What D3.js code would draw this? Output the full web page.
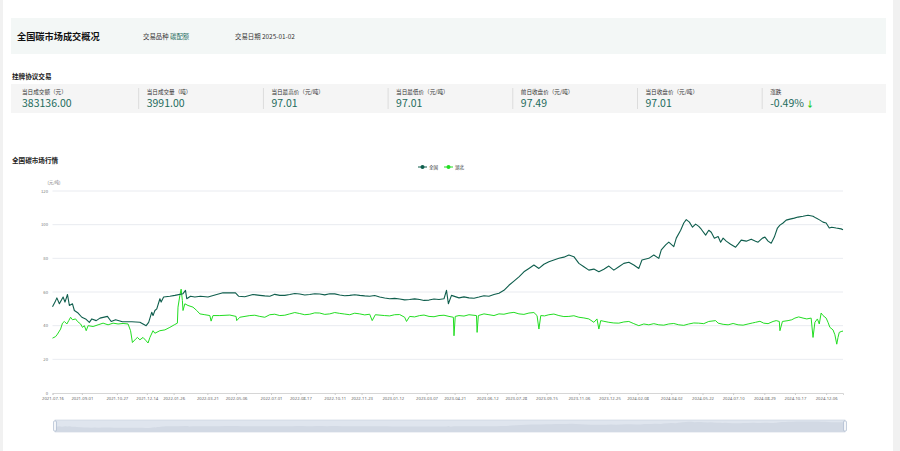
<!DOCTYPE html>
<html><head><meta charset="utf-8">
<script src="https://cdn.jsdelivr.net/npm/d3@7/dist/d3.min.js"></script>
<style>
html,body{margin:0;padding:0;background:#fff;overflow:hidden;}
svg{display:block;font-family:"Noto Sans CJK SC","Noto Sans",sans-serif;}
</style></head><body>
<svg id="c" width="900" height="451"></svg>
<script>
const headerTitle = "全国碳市场成交概况";
const productLabel = "交易品种 ";
const productName = "碳配额";
const dateLabel = "交易日期 2025-01-02";
const sectionTitle = "挂牌协议交易";
const metricLabels = ["当日成交额（元）","当日成交量（吨）","当日最高价（元/吨）","当日最低价（元/吨）","前日收盘价（元/吨）","当日收盘价（元/吨）","涨跌"];
const metricValues = ["383136.00","3991.00","97.01","97.01","97.49","97.01","-0.49%"];
const chartTitle = "全国碳市场行情";
const seriesNames = ["全国","湖北"];
const yTicks = [0,20,40,60,80,100,120];
const yUnit = "(元/吨)";
const xTickLabels = ["2021-07-16","2021-09-01","2021-10-27","2021-12-14","2022-01-26","2022-03-21","2022-05-06","2022-07-01","2022-08-17","2022-10-11","2022-11-23","2023-01-12","2023-03-07","2023-04-21","2023-06-12","2023-07-28","2023-09-15","2023-11-06","2023-12-25","2024-02-08","2024-04-02","2024-05-22","2024-07-10","2024-08-29","2024-10-17","2024-12-06"];
const xDomain = ["2021-07-16","2025-01-02"];

const nationalSeries = [
["2021-07-16",51.2],["2021-07-20",54],["2021-07-23",56.5],["2021-07-27",53],["2021-08-02",57],["2021-08-05",54],["2021-08-09",58.5],["2021-08-12",52],["2021-08-17",53],["2021-08-20",49],["2021-08-26",47.5],["2021-09-01",45],["2021-09-07",44],["2021-09-13",42],["2021-09-17",44],["2021-09-24",43],["2021-09-30",44.5],["2021-10-12",45.5],["2021-10-18",42.5],["2021-10-25",43.5],["2021-11-05",42.3],["2021-11-20",42.3],["2021-12-03",42],["2021-12-08",41],["2021-12-13",40],["2021-12-17",42],["2021-12-22",48],["2021-12-24",46],["2021-12-27",49],["2021-12-30",50],["2022-01-04",56],["2022-01-06",54],["2022-01-10",57],["2022-01-20",57.5],["2022-01-28",58],["2022-02-10",59],["2022-02-14",61],["2022-02-16",56],["2022-02-22",57.5],["2022-03-01",57],["2022-03-10",57.5],["2022-03-22",57],["2022-04-05",58.5],["2022-04-15",59.5],["2022-05-05",59.5],["2022-05-10",57.5],["2022-05-20",57.2],["2022-06-02",58.5],["2022-06-13",58],["2022-06-21",57.7],["2022-06-29",57.5],["2022-07-07",58.6],["2022-07-15",58],["2022-07-23",58],["2022-07-31",58.5],["2022-08-08",59.1],["2022-08-16",58.8],["2022-08-24",58.2],["2022-09-01",58.5],["2022-09-09",59],["2022-09-17",58.8],["2022-09-25",58.3],["2022-10-03",59],["2022-10-11",58.9],["2022-10-19",58.2],["2022-10-27",57.8],["2022-11-04",58],["2022-11-12",58.4],["2022-11-20",58],["2022-11-28",57.7],["2022-12-06",57.5],["2022-12-14",57.9],["2022-12-22",57],["2022-12-30",56.4],["2023-01-07",56],["2023-01-15",56.2],["2023-01-23",55.8],["2023-01-31",55.3],["2023-02-08",55.5],["2023-02-16",55.9],["2023-02-24",55.5],["2023-03-03",55],["2023-03-11",55.2],["2023-03-19",55.8],["2023-03-27",55.5],["2023-04-04",56],["2023-04-08",61],["2023-04-11",53],["2023-04-16",58],["2023-04-28",56.5],["2023-05-06",57.1],["2023-05-14",56.5],["2023-05-22",56.3],["2023-05-30",57],["2023-06-07",57.8],["2023-06-15",57.5],["2023-06-23",58.5],["2023-07-01",59.3],["2023-07-09",61],["2023-07-17",64],["2023-07-25",66.5],["2023-08-02",69],["2023-08-10",72],["2023-08-18",74],["2023-08-26",76],["2023-09-03",74],["2023-09-11",76.5],["2023-09-19",78],["2023-09-27",79],["2023-10-05",80],["2023-10-13",80.7],["2023-10-21",82],["2023-10-29",81],["2023-11-06",77],["2023-11-14",75],["2023-11-22",73],["2023-11-30",73.6],["2023-12-08",72],["2023-12-16",73.5],["2023-12-24",75.4],["2024-01-01",73],["2024-01-09",75],["2024-01-17",77],["2024-01-25",77.7],["2024-02-02",76],["2024-02-10",74],["2024-02-15",79],["2024-02-26",80],["2024-03-05",82],["2024-03-13",80],["2024-03-17",85],["2024-03-24",88],["2024-03-29",89.6],["2024-04-06",87],["2024-04-10",92],["2024-04-17",96.7],["2024-04-22",101],["2024-04-26",103],["2024-05-01",101.5],["2024-05-06",98.5],["2024-05-11",100.3],["2024-05-16",99],["2024-05-20",97.3],["2024-05-27",93.8],["2024-06-01",96.7],["2024-06-05",95.5],["2024-06-10",92],["2024-06-16",93],["2024-06-20",89.6],["2024-06-24",92],["2024-06-29",90.2],["2024-07-06",88.4],["2024-07-14",86.6],["2024-07-18",88.4],["2024-07-23",90.8],["2024-07-31",90.2],["2024-08-08",91.4],["2024-08-15",90.2],["2024-08-19",89.6],["2024-08-26",92],["2024-08-30",92.6],["2024-09-04",90.2],["2024-09-09",89],["2024-09-14",92.6],["2024-09-19",98],["2024-09-23",99.7],["2024-09-28",101],["2024-10-03",102.7],["2024-10-09",103.3],["2024-10-16",103.9],["2024-10-22",104.5],["2024-10-30",105],["2024-11-07",105.6],["2024-11-15",105],["2024-11-20",103.9],["2024-11-26",102.7],["2024-12-01",101.5],["2024-12-06",101],["2024-12-11",98],["2024-12-15",98.5],["2024-12-22",98],["2024-12-30",97.5],["2025-01-02",97.01]
];

const hubeiSeries = [
["2021-07-16",32.6],["2021-07-21",33.5],["2021-07-24",35],["2021-07-29",38],["2021-08-01",41.5],["2021-08-04",42.5],["2021-08-08",41],["2021-08-11",43],["2021-08-14",45],["2021-08-17",43.5],["2021-08-22",44],["2021-08-25",42.5],["2021-08-30",41],["2021-09-02",39],["2021-09-05",40],["2021-09-08",37],["2021-09-11",40],["2021-09-19",39.5],["2021-09-27",40.5],["2021-10-05",41.5],["2021-10-13",40.5],["2021-10-21",41.5],["2021-10-29",41],["2021-11-06",41.3],["2021-11-14",41],["2021-11-18",37],["2021-11-21",30],["2021-11-26",32],["2021-11-29",33],["2021-12-03",31.6],["2021-12-08",33],["2021-12-13",31],["2021-12-16",29.7],["2021-12-19",33],["2021-12-24",37],["2021-12-27",35.5],["2022-01-04",37],["2022-01-12",37.5],["2022-01-20",39],["2022-01-27",40.5],["2022-02-01",41.5],["2022-02-02",51],["2022-02-05",58],["2022-02-07",61.7],["2022-02-09",55],["2022-02-10",49],["2022-02-13",53],["2022-02-18",52],["2022-02-26",51],["2022-03-04",49],["2022-03-09",47],["2022-03-17",46.5],["2022-03-25",46],["2022-03-27",42.7],["2022-03-30",46],["2022-04-10",46],["2022-04-26",46.3],["2022-05-06",45.5],["2022-05-07",43],["2022-05-12",45],["2022-05-28",46],["2022-06-05",46.2],["2022-06-13",45.5],["2022-06-21",45],["2022-06-29",46.5],["2022-07-07",46.8],["2022-07-15",46],["2022-07-23",46.2],["2022-07-31",47],["2022-08-08",47.8],["2022-08-16",47.2],["2022-08-24",46.5],["2022-09-01",46.8],["2022-09-09",47.6],["2022-09-17",47.5],["2022-09-25",46.7],["2022-10-03",47],["2022-10-11",47.8],["2022-10-19",47.3],["2022-10-27",46.9],["2022-11-04",46.5],["2022-11-12",47.4],["2022-11-20",47],["2022-11-28",46.4],["2022-12-06",46.8],["2022-12-10",43],["2022-12-15",46.5],["2022-12-30",46],["2023-01-07",45.8],["2023-01-15",46.5],["2023-01-23",46.6],["2023-01-31",45],["2023-02-03",42.5],["2023-02-08",45.5],["2023-02-16",45.2],["2023-02-24",46],["2023-03-03",46.3],["2023-03-11",45.5],["2023-03-19",45.3],["2023-03-27",46],["2023-04-04",46.2],["2023-04-12",45.5],["2023-04-19",45],["2023-04-20",34],["2023-04-22",45.5],["2023-04-28",46],["2023-05-06",45.7],["2023-05-14",46.5],["2023-05-26",46],["2023-05-27",36],["2023-05-29",46],["2023-06-07",47],["2023-06-15",46.5],["2023-06-23",46],["2023-07-01",47],["2023-07-09",46.8],["2023-07-17",47.5],["2023-07-25",47.9],["2023-08-02",47],["2023-08-10",46.7],["2023-08-18",47.5],["2023-08-26",47.8],["2023-08-31",46],["2023-09-03",38],["2023-09-06",46],["2023-09-12",45.8],["2023-09-19",46.5],["2023-09-27",46.9],["2023-10-05",46],["2023-10-13",45.4],["2023-10-21",45.5],["2023-10-29",45.9],["2023-11-06",45],["2023-11-14",44.6],["2023-11-22",44],["2023-11-30",42],["2023-12-05",44],["2023-12-08",38],["2023-12-11",43],["2023-12-16",42.6],["2023-12-24",42],["2024-01-01",41.6],["2024-01-09",41.5],["2024-01-17",42.2],["2024-01-25",42.5],["2024-02-02",41.2],["2024-02-10",40],["2024-02-18",41],["2024-02-26",40.5],["2024-03-05",41.2],["2024-03-13",40.5],["2024-03-21",40.3],["2024-03-29",41],["2024-04-06",41.3],["2024-04-14",40.5],["2024-04-22",40.2],["2024-04-30",41],["2024-05-08",41.6],["2024-05-16",41.5],["2024-05-24",41.2],["2024-06-01",42.5],["2024-06-12",43],["2024-06-16",41.5],["2024-06-24",40.8],["2024-07-02",40.5],["2024-07-10",41.3],["2024-07-18",40.5],["2024-07-26",40.3],["2024-08-03",41],["2024-08-10",41.6],["2024-08-15",42],["2024-08-22",42.6],["2024-08-28",41.5],["2024-09-04",41.2],["2024-09-12",42.5],["2024-09-17",43],["2024-09-22",42.5],["2024-09-23",37],["2024-09-27",42.5],["2024-10-06",43],["2024-10-12",43.5],["2024-10-17",44.5],["2024-10-23",45.2],["2024-10-30",44.5],["2024-11-05",44],["2024-11-12",44.5],["2024-11-15",33],["2024-11-18",42],["2024-11-22",44],["2024-11-25",41],["2024-11-28",47.5],["2024-12-01",46],["2024-12-06",44.5],["2024-12-09",42],["2024-12-12",39],["2024-12-17",37.5],["2024-12-20",34.6],["2024-12-23",29],["2024-12-25",33],["2024-12-27",36],["2024-12-30",36.5],["2025-01-02",36.8]
];

const parse = d3.timeParse("%Y-%m-%d");
const svg = d3.select("#c");
const teal = "#1d6b5c";
const darkLine = "#0f5e4d";
const greenLine = "#22dd22";

// page side strips
svg.append("rect").attr("x",0).attr("y",0).attr("width",3).attr("height",451).attr("fill","#f1f1f1");
svg.append("rect").attr("x",893).attr("y",0).attr("width",7).attr("height",451).attr("fill","#f1f1f1");

// header
svg.append("rect").attr("x",11).attr("y",18).attr("width",875).attr("height",36).attr("fill","#f3f7f6");
svg.append("text").attr("x",17).attr("y",39.5).attr("font-size",9.2).attr("font-weight","bold").attr("fill","#111").text(headerTitle);
const pt = svg.append("text").attr("x",143).attr("y",38.5).attr("font-size",6.4).attr("fill","#333");
pt.append("tspan").text(productLabel);
pt.append("tspan").attr("fill",teal).text(productName);
svg.append("text").attr("x",235).attr("y",38.5).attr("font-size",6.4).attr("fill","#333").text(dateLabel);

// metrics
svg.append("text").attr("x",12).attr("y",78.5).attr("font-size",6.6).attr("font-weight","bold").attr("fill","#222").text(sectionTitle);
svg.append("rect").attr("x",11).attr("y",84).attr("width",875).attr("height",29).attr("fill","#f5f5f5");
const colX = d3.scaleLinear().domain([0,1]).range([22,146.7]);
const m = svg.append("g").selectAll("g").data(metricLabels).join("g").attr("transform",(d,i)=>`translate(${colX(i)},0)`);
m.filter((d,i)=>i>0).append("line").attr("x1",-8).attr("x2",-8).attr("y1",88).attr("y2",109).attr("stroke","#dcdcdc").attr("stroke-width",1);
m.append("text").attr("y",93.5).attr("font-size",5.6).attr("fill","#333").text(d=>d);
const vt = m.append("text").attr("y",107).attr("font-size",10.5).attr("fill",teal).text((d,i)=>metricValues[i]);
vt.filter((d,i)=>i===6).append("tspan").attr("dx",2).attr("fill","#22cc22").attr("font-size",8).attr("font-weight","bold").text("↓");

// chart title
svg.append("text").attr("x",12).attr("y",162.5).attr("font-size",6.6).attr("font-weight","bold").attr("fill","#222").text(chartTitle);

// scales
const x = d3.scaleTime().domain(xDomain.map(parse)).range([52.5,843]);
const y = d3.scaleLinear().domain([0,120]).range([393,191]);

// grid
svg.append("g").selectAll("line").data(yTicks.filter(v=>v>0)).join("line")
  .attr("x1",52.5).attr("x2",843).attr("y1",d=>y(d)).attr("y2",d=>y(d))
  .attr("stroke","#e3e6ec").attr("stroke-width",0.8);
// y labels
svg.append("g").selectAll("text").data(yTicks).join("text")
  .attr("x",48).attr("y",d=>y(d)+1.5).attr("text-anchor","end").attr("font-size",4.2).attr("fill","#777").text(d=>d);
svg.append("text").attr("x",54).attr("y",184).attr("text-anchor","middle").attr("font-size",4.2).attr("fill","#777").text(yUnit);

// x axis
const xAxis = d3.axisBottom(x).tickValues(xTickLabels.map(parse)).tickFormat(d3.timeFormat("%Y-%m-%d")).tickSize(2).tickPadding(2);
const gx = svg.append("g").attr("transform","translate(0,393)").call(xAxis);
gx.select(".domain").attr("stroke","#ccc").attr("stroke-width",0.8);
gx.selectAll(".tick line").attr("stroke","#ccc");
gx.selectAll(".tick text").attr("font-size",4.2).attr("fill","#666").attr("font-family","'Noto Sans',sans-serif");

// lines
const natSorted = d3.sort(nationalSeries, d=>d[0]);
const hubSorted = d3.sort(hubeiSeries, d=>d[0]);
const line = d3.line().x(d=>x(parse(d[0]))).y(d=>y(d[1]));
svg.append("path").datum(hubSorted).attr("d",line).attr("fill","none").attr("stroke",greenLine).attr("stroke-width",1).attr("stroke-linejoin","round");
svg.append("path").datum(natSorted).attr("d",line).attr("fill","none").attr("stroke",darkLine).attr("stroke-width",1.1).attr("stroke-linejoin","round");

// legend
const lg = svg.append("g").selectAll("g").data(seriesNames).join("g").attr("transform",(d,i)=>`translate(${418+i*26},167)`);
lg.append("line").attr("x1",0).attr("x2",9).attr("stroke",(d,i)=>i?greenLine:darkLine).attr("stroke-width",1);
lg.append("circle").attr("cx",4.5).attr("r",2).attr("fill",(d,i)=>i?greenLine:darkLine);
lg.append("text").attr("x",11).attr("y",1.6).attr("font-size",4.5).attr("fill","#333").text(d=>d);

// data zoom slider
const sx = d3.scaleTime().domain(x.domain()).range([55,845]);
const sy = d3.scaleLinear().domain([0,120]).range([432,420]);
svg.append("rect").attr("x",55).attr("y",420).attr("width",790).attr("height",12).attr("fill","#dfe5ee").attr("stroke","#c8d0dc").attr("stroke-width",0.6);
const area = d3.area().x(d=>sx(parse(d[0]))).y0(432).y1(d=>sy(d[1]));
svg.append("path").datum(natSorted).attr("d",area).attr("fill","#d2d9e4");
[55,845].forEach(px=>{
  svg.append("rect").attr("x",px-1.5).attr("y",421).attr("width",3).attr("height",10).attr("rx",1).attr("fill","#f4f6f9").attr("stroke","#9fb0c7").attr("stroke-width",0.6);
});
</script>
</body></html>
